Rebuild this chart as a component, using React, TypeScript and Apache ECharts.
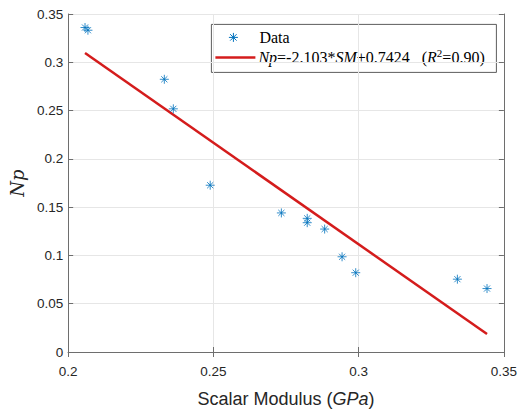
import React, { useEffect, useRef } from "react";
import * as echarts from "echarts";

const dataX = [0.2058, 0.2068, 0.2331, 0.2362, 0.2489, 0.2734, 0.2823, 0.2823, 0.2883, 0.2943, 0.299, 0.334, 0.3442];
const dataY = [0.336, 0.3332, 0.2824, 0.2518, 0.1727, 0.144, 0.1384, 0.1339, 0.1273, 0.0986, 0.0821, 0.0754, 0.0657];
const fitX = [0.2058, 0.3442];
const fitY = [0.3096, 0.0186];
const xTicks = ["0.2", "0.25", "0.3", "0.35"];
const yTicks = ["0", "0.05", "0.1", "0.15", "0.2", "0.25", "0.3", "0.35"];

const STAR = "path://M0,5 L10,5 M5,0 L5,10 M1.6,1.6 L8.4,8.4 M1.6,8.4 L8.4,1.6";
const BLUE = "#0072BD";
const AXIS = "#6e6e6e";
const SERIF = "Liberation Serif, Times New Roman, serif";

export default function App() {
  const ref = useRef<HTMLDivElement>(null);
  useEffect(() => {
    const chart = echarts.init(ref.current!, undefined, { renderer: "svg" });
    const tickLabel = { color: "#262626", fontSize: 13.5, fontFamily: "Liberation Sans, Arial, sans-serif" };
    const common = {
      type: "value" as const,
      axisLine: { show: true, lineStyle: { color: AXIS, width: 1 } },
      axisTick: { show: true, inside: true, length: 5, lineStyle: { color: AXIS } },
    };
    chart.setOption({
      animation: false,
      backgroundColor: "#fff",
      grid: { left: 67, right: 15, top: 14, bottom: 53, containLabel: false },
      xAxis: [
        {
          ...common,
          min: 0.2, max: 0.35, interval: 0.05,
          axisLabel: { ...tickLabel, margin: 12, formatter: (v: number) => xTicks[Math.round((v - 0.2) / 0.05)] ?? "" },
          splitLine: { show: true, lineStyle: { color: "#e6e6e6" } },
          name: "{n|Scalar Modulus (}{i|GPa}{n|)}",
          nameLocation: "middle",
          nameGap: 38,
          nameTextStyle: {
            rich: {
              n: { fontSize: 18, color: "#262626", fontFamily: "Liberation Sans, Arial, sans-serif" },
              i: { fontSize: 18, color: "#262626", fontStyle: "italic", fontFamily: "Liberation Sans, Arial, sans-serif" },
            },
          },
        },
        {
          ...common,
          position: "top",
          min: 0.2, max: 0.35, interval: 0.05,
          axisLabel: { show: false },
          splitLine: { show: false },
        },
      ],
      yAxis: [
        {
          ...common,
          min: 0, max: 0.35, interval: 0.05,
          axisLabel: { ...tickLabel, margin: 5, formatter: (v: number) => yTicks[Math.round(v / 0.05)] ?? "" },
          splitLine: { show: true, lineStyle: { color: "#e6e6e6" } },
          name: "Np",
          nameLocation: "middle",
          nameGap: 38,
          nameTextStyle: { fontSize: 18, fontStyle: "italic", fontFamily: "DejaVu Serif, serif", color: "#262626" },
        },
        {
          ...common,
          position: "right",
          min: 0, max: 0.35, interval: 0.05,
          axisLabel: { show: false },
          splitLine: { show: false },
        },
      ],
      series: [
        {
          type: "scatter",
          name: "Data",
          symbol: STAR,
          symbolSize: 9,
          itemStyle: { color: "rgba(0,0,0,0)", borderColor: BLUE, borderWidth: 1 },
          data: dataX.map((x, i) => [x, dataY[i]]),
          z: 3,
        },
        {
          type: "line",
          name: "fit",
          symbol: "none",
          lineStyle: { color: "#d41c1c", width: 2.5 },
          data: fitX.map((x, i) => [x, fitY[i]]),
          z: 2,
        },
      ],
      graphic: [
        {
          type: "group",
          left: 211,
          top: 24,
          z: 100,
          children: [
            {
              type: "rect",
              shape: { x: 0, y: 0, width: 285, height: 48 },
              style: { fill: "#fff", stroke: "#333", lineWidth: 0.8 },
            },
            { type: "line", shape: { x1: 17.5, y1: 13, x2: 26.5, y2: 13 }, style: { stroke: BLUE, lineWidth: 1 } },
            { type: "line", shape: { x1: 22, y1: 8.5, x2: 22, y2: 17.5 }, style: { stroke: BLUE, lineWidth: 1 } },
            { type: "line", shape: { x1: 18.8, y1: 9.8, x2: 25.2, y2: 16.2 }, style: { stroke: BLUE, lineWidth: 1 } },
            { type: "line", shape: { x1: 18.8, y1: 16.2, x2: 25.2, y2: 9.8 }, style: { stroke: BLUE, lineWidth: 1 } },
            {
              type: "text",
              x: 48, y: 13,
              style: { text: "Data", fontSize: 16, fontFamily: SERIF, fill: "#000", verticalAlign: "middle" },
            },
            { type: "line", shape: { x1: 4, y1: 33, x2: 44, y2: 33 }, style: { stroke: "#d41c1c", lineWidth: 2.5 } },
            {
              type: "text",
              x: 47, y: 33,
              style: {
                text: "{i|Np}{n|=-2.103*}{i|SM}{n|+0.7424   (}{i|R}{s|2}{n|=0.90)}",
                verticalAlign: "middle",
                rich: {
                  n: { fontSize: 16, fontFamily: SERIF, color: "#000" },
                  i: { fontSize: 16, fontStyle: "italic", fontFamily: SERIF, color: "#000" },
                  s: { fontSize: 11, fontFamily: SERIF, color: "#000", verticalAlign: "top", padding: [0, 0, 8, 0] },
                },
              },
            },
          ],
        },
      ],
    });
    return () => chart.dispose();
  }, []);
  return <div ref={ref} style={{ position: "fixed", left: 0, top: 0, width: 520, height: 413 }} />;
}
